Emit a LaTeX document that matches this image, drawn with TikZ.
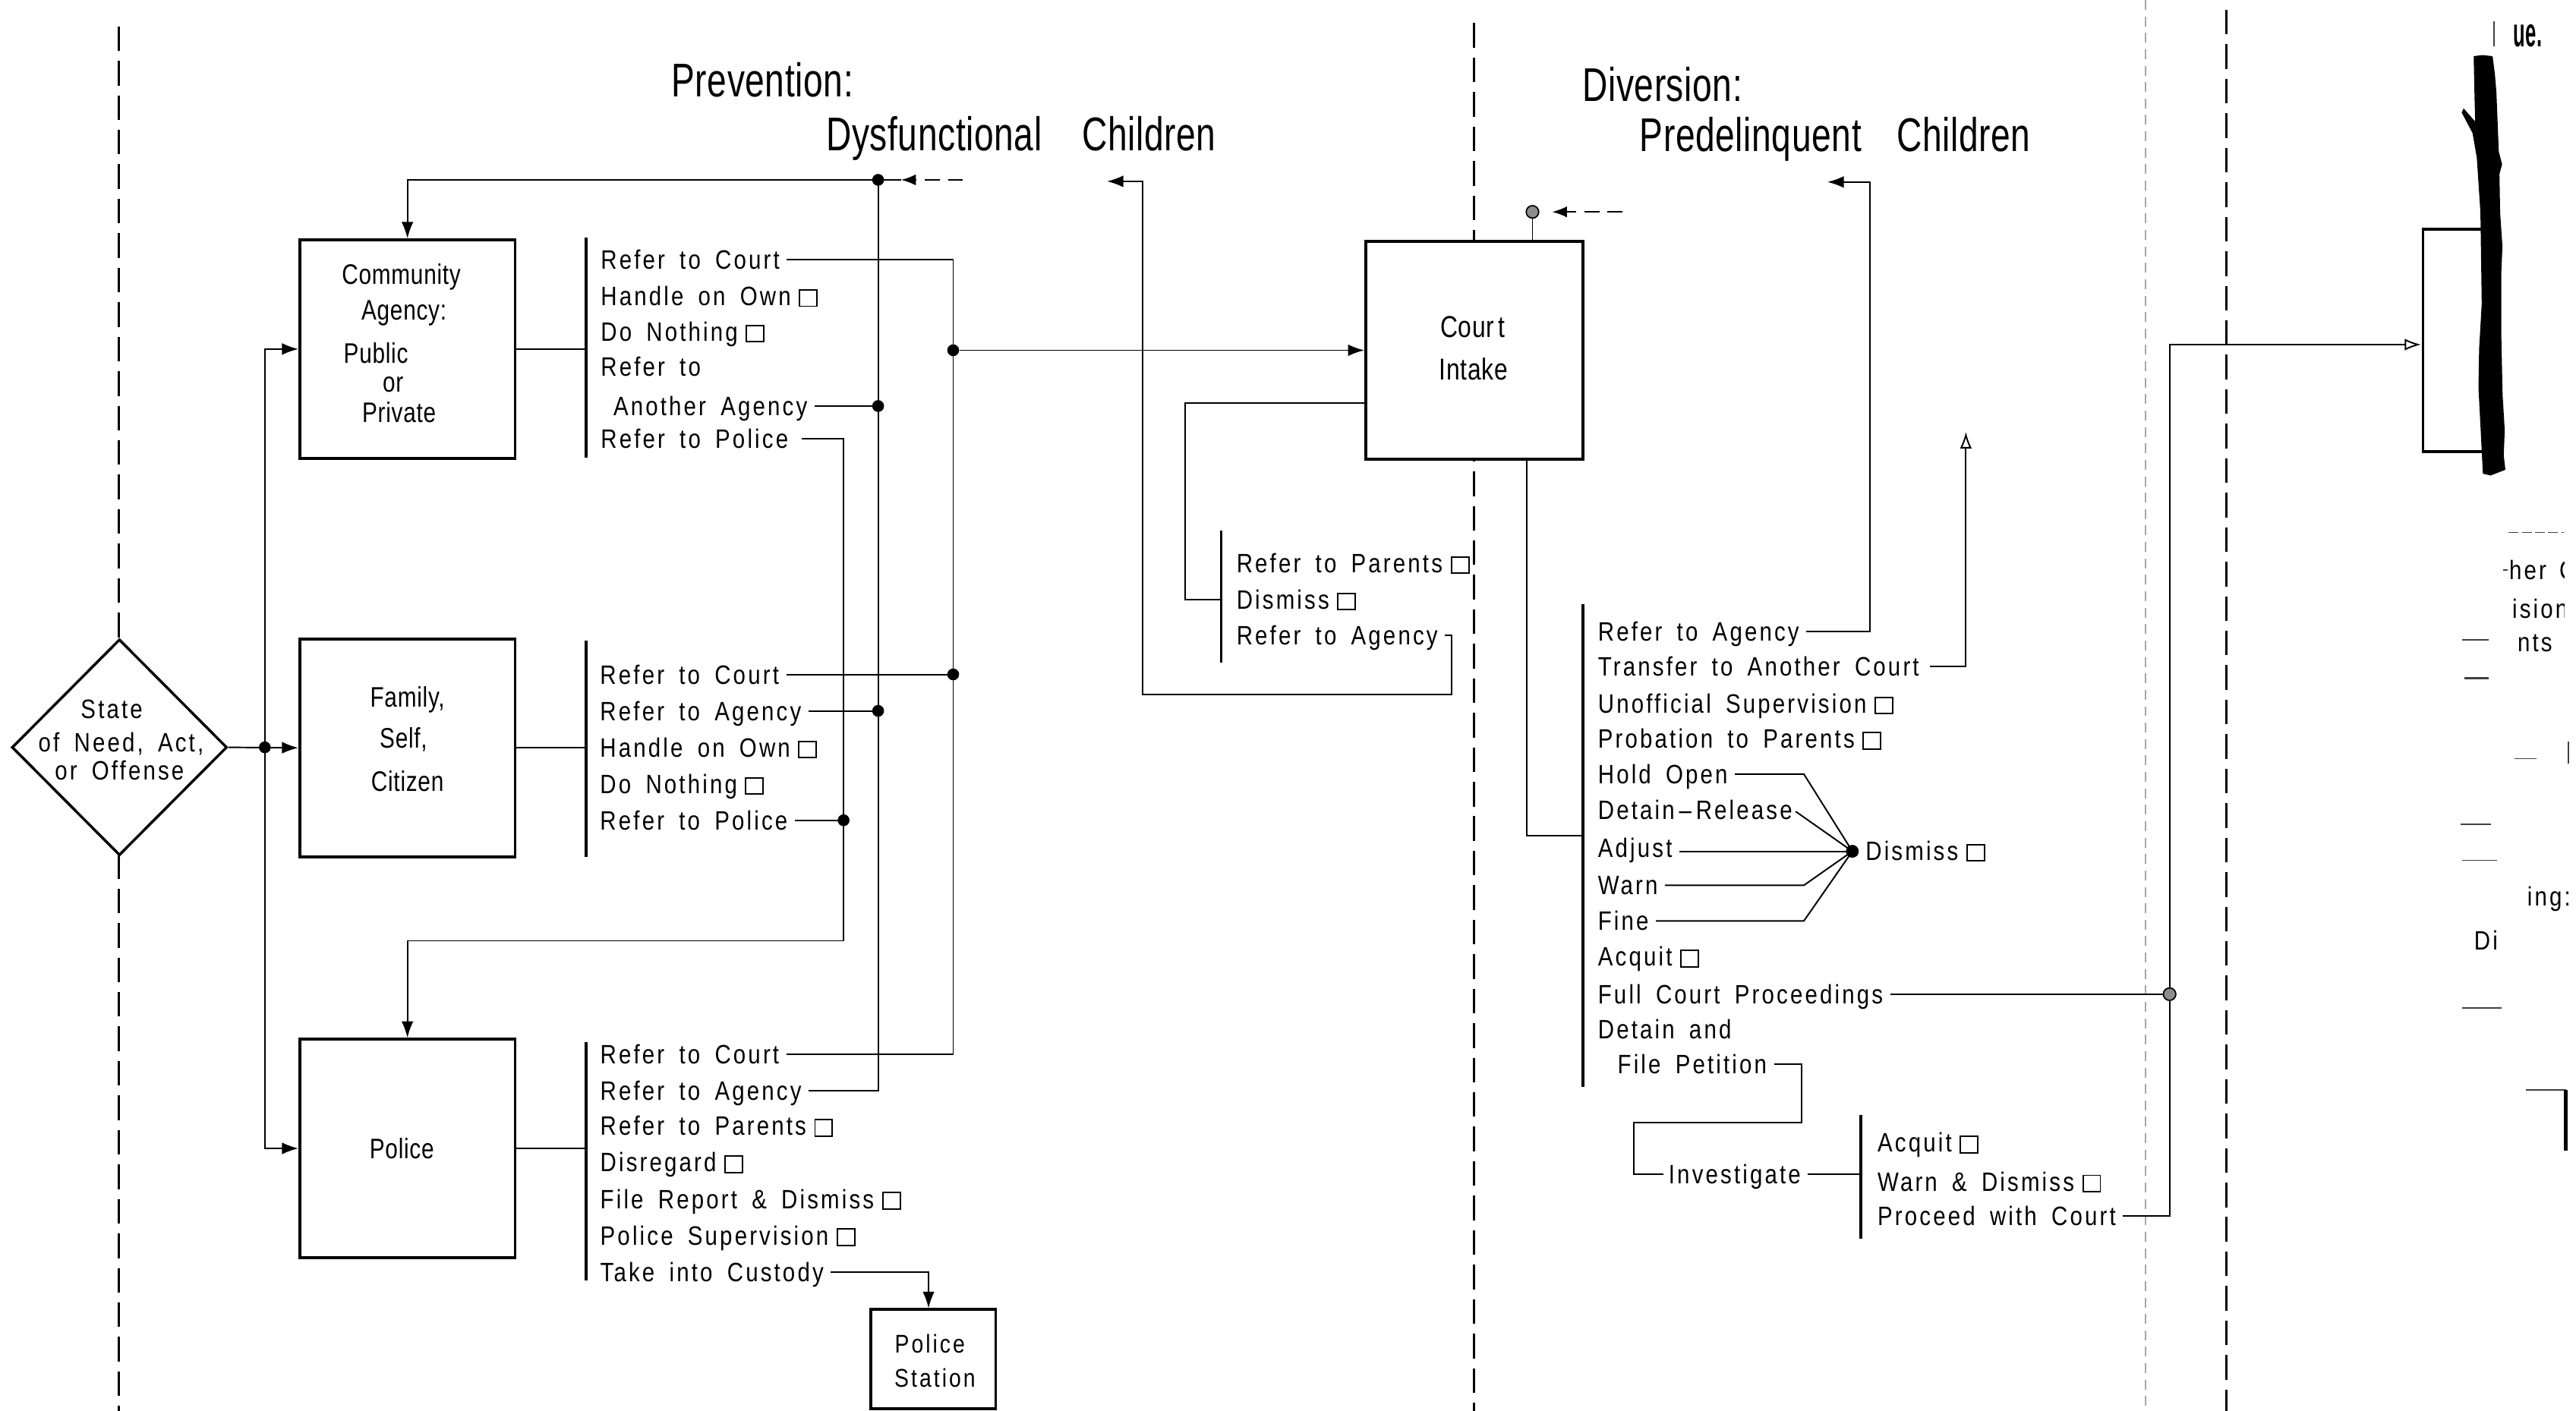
\documentclass[tikz,border=0pt]{standalone}
\usepackage{fontspec}
\usepackage{graphicx}
\setmainfont[FakeStretch=0.84,LetterSpace=9,WordSpace=1.7]{Liberation Sans}
\newfontfamily\titlefont[FakeStretch=0.74,LetterSpace=1]{Liberation Sans}
\newfontfamily\boxfont[FakeStretch=0.8,LetterSpace=2,WordSpace=1.3]{Liberation Sans}
\usetikzlibrary{arrows.meta,shapes.geometric}
% small empty check box after an outcome
\newcommand{\chkbox}{\hspace{0.3em}{\setlength{\fboxsep}{0pt}\setlength{\fboxrule}{0.45pt}\fbox{\rule{0pt}{0.56em}\rule{0.6em}{0pt}}}}
\begin{document}
\begin{tikzpicture}[x=0.5pt,y=-0.5pt,
  conn/.style={line width=0.45pt},
  arr/.style={-{Latex[length=5pt,width=3.6pt]}},
  oarr/.style={-{Latex[open,length=5pt,width=3.6pt]}},
  dasharrow/.style={line width=0.45pt,dash pattern=on 4.5pt off 2.5pt,-{Latex[length=4.5pt,width=3.4pt]}},
  cbox/.style={draw,fill=white,line width=0.85pt,inner sep=0pt},
  brk/.style={line width=0.8pt},
  lane/.style={line width=0.7pt,dash pattern=on 7.5pt off 3pt},
  faint/.style={line width=0.3pt,black!35,dash pattern=on 3pt off 2pt},
  frag/.style={line width=0.4pt,black!75},
  txt/.style={inner sep=0pt,text height=5.8pt,text depth=0pt,font=\fontsize{8.1}{9}\selectfont},
  item/.style={txt,anchor=west},
  boxtxt/.style={inner sep=0pt,text height=6.15pt,text depth=0pt,font=\boxfont\fontsize{8.6}{10}\selectfont},
  ttl/.style={inner sep=0pt,anchor=west,text height=10.3pt,text depth=0pt,font=\titlefont\fontsize{14.4}{16}\selectfont},
  jdot/.style={circle,fill=black,inner sep=0pt,minimum size=3.6pt},
  gdot/.style={circle,draw,line width=0.4pt,fill=black!45,inner sep=0pt,minimum size=3.8pt},
]
\fill[white] (0,0) rectangle (1568,859);
\useasboundingbox (0,0) rectangle (1568,859);

% ---------- lane separators ----------
\draw[lane] (72.5,16) -- (72.5,859);
\draw[lane] (897,14) -- (897,859);
\draw[lane] (1355,6) -- (1355,859);
\draw[faint] (1306,0) -- (1306,859);

% ---------- titles ----------
\node[ttl] (t1) at (408.3,48.5) {Prevention:};
\node[ttl] (t2) at (502.5,81.5) {Dysfunctional\hspace{0.85em}Children};
\node[ttl] (t3) at (962.8,51.6) {Diversion:};
\node[ttl] (t4) at (997.7,82) {Predelinquent\hspace{0.75em}Children};

% ---------- entry point ----------
\node[diamond,draw,fill=white,line width=0.8pt,minimum width=65.5pt,minimum height=65.8pt,inner sep=0pt] (state) at (72.7,455) {};
\node[txt] (stA) at (68,431.7) {State};
\node[txt] (stB) at (73.7,452) {of Need, Act,};
\node[txt] (stC) at (72.7,469) {or\ Offense};

% ---------- first contacts ----------
\node[cbox,minimum width=65.5pt,minimum height=66.5pt] (ca) at (248,212.5) {};
\node[boxtxt] (caT1) at (244.3,166.7) {Community};
\node[boxtxt] (caT2) at (245.9,188.7) {Agency:};
\node[boxtxt,anchor=west] (caT3) at (208.8,214.9) {Public};
\node[boxtxt,anchor=west] (caT4) at (232.6,232.6) {or};
\node[boxtxt,anchor=west] (caT5) at (220.1,251.1) {Private};

\node[cbox,minimum width=65.5pt,minimum height=66.3pt] (fam) at (248,455.3) {};
\node[boxtxt] (famT1) at (248,424.2) {Family,};
\node[boxtxt] (famT2) at (245.6,449.2) {Self,};
\node[boxtxt] (famT3) at (248,475.5) {Citizen};

\node[cbox,minimum width=65.5pt,minimum height=66.5pt] (pol) at (248,699.2) {};
\node[boxtxt] (polT) at (244.6,699.2) {Police};

\node[cbox,minimum width=38pt,minimum height=30.2pt] (ps) at (568,827.5) {};
\node[txt,text height=5.6pt,font=\fontsize{7.8}{8}\selectfont] (psT1) at (566,818.3) {Police};
\node[txt,text height=5.6pt,font=\fontsize{7.8}{8}\selectfont] (psT2) at (569.1,838.7) {Station};

% ---------- court intake box ----------
\node[cbox,minimum width=66.15pt,minimum height=66.25pt] (ci) at (897.5,213.25) {};
\node[boxtxt,text height=6.6pt,font=\boxfont\fontsize{9.2}{10}\selectfont] (ciT1) at (896.4,199) {Cour\hspace{0.12em}t};
\node[boxtxt,text height=6.6pt,font=\boxfont\fontsize{9.2}{10}\selectfont] (ciT2) at (897,224.9) {Intake};

% ---------- outcome lists ----------
\coordinate (caBrT) at (356.8,144.8); \coordinate (caBrB) at (356.8,278.5);
\coordinate (faBrT) at (356.8,390);   \coordinate (faBrB) at (356.8,521.6);
\coordinate (poBrT) at (356.8,634.3); \coordinate (poBrB) at (356.8,779.4);
\draw[brk] (caBrT) -- (caBrB);
\draw[brk] (faBrT) -- (faBrB);
\draw[brk] (poBrT) -- (poBrB);
\draw[conn] (ca.east) -- (caBrT |- ca.east);
\draw[conn] (fam.east) -- (faBrT |- fam.east);
\draw[conn] (pol.east) -- (poBrT |- pol.east);

\node[item] (caI1) at (365.3,157.9) {Refer to Court};
\node[item] (caI2) at (365.3,180.2) {Handle on Own\chkbox};
\node[item] (caI3) at (365.3,201.8) {Do Nothing\chkbox};
\node[item] (caI4) at (365.3,223.3) {Refer to};
\node[item] (caI5) at (373,247.2) {Another Agency};
\node[item] (caI6) at (365.3,267.2) {Refer to Police};

\node[item] (famI1) at (364.9,410.6) {Refer to Court};
\node[item] (famI2) at (364.9,432.8) {Refer to Agency};
\node[item] (famI3) at (364.9,455) {Handle on Own\chkbox};
\node[item] (famI4) at (364.9,477.2) {Do Nothing\chkbox};
\node[item] (famI5) at (364.9,499.4) {Refer to Police};

\node[item] (polI1) at (365,641.8) {Refer to Court};
\node[item] (polI2) at (365,664) {Refer to Agency};
\node[item] (polI3) at (365,685.5) {Refer to Parents\chkbox};
\node[item] (polI4) at (365,707.7) {Disregard\chkbox};
\node[item] (polI5) at (365,729.9) {File Report \& Dismiss\chkbox};
\node[item] (polI6) at (365,752.1) {Police Supervision\chkbox};
\node[item] (polI7) at (365,774.3) {Take into Custody};

% ---------- entry connectors ----------
\coordinate (jL) at (161.2,455);
\draw[conn,arr] (state.east) -- (fam.west);
\draw[conn,{Latex[length=5pt,width=3.6pt]}-{Latex[length=5pt,width=3.6pt]}] (ca.west) -| (jL) |- (pol.west);
\node[jdot] (dL) at (jL) {};

% ---------- referral trunks ----------
\coordinate (tC) at (580.2,0);
\coordinate (tA) at (534.5,109.5);
\coordinate (tP) at (513.5,572.8);
\coordinate (dashA) at (586,109.5);

\draw[conn,shorten <=2pt] (caI1.east) -| (tC |- polI1.east) -- ([xshift=2pt]polI1.east);
\draw[conn,shorten <=2pt] (famI1.east) -- (tC |- famI1.east);
\node[jdot] (dC1) at (tC |- ci.west) {};
\node[jdot] (dC2) at (tC |- famI1.east) {};
\draw[conn,arr] (dC1) -- (ci.west);

\draw[conn] (tA) -- (tA |- polI2.east) -- ([xshift=2pt]polI2.east);
\draw[conn,shorten <=2pt] (caI5.east) -- (tA |- caI5.east);
\draw[conn,shorten <=2pt] (famI2.east) -- (tA |- famI2.east);
\draw[conn,arr] ([xshift=7pt]tA) -| (ca.north);
\draw[dasharrow] (dashA) -- ([xshift=7pt]tA);
\node[jdot] (dA0) at (tA) {};
\node[jdot] (dA1) at (tA |- caI5.east) {};
\node[jdot] (dA2) at (tA |- famI2.east) {};

\draw[conn,arr,shorten <=4pt] (caI6.east) -| (tP) -| (pol.north);
\draw[conn,shorten <=2pt] (famI5.east) -- (tP |- famI5.east);
\node[jdot] (dP) at (tP |- famI5.east) {};

\draw[conn,arr,shorten <=2pt] (polI7.east) -| ([xshift=-1.4pt]ps.north);

% ---------- court intake ----------
\coordinate (ciTop) at (932.8,129);
\coordinate (dashB) at (987.5,129);
\draw[conn] (ciTop) -- (ciTop |- ci.north);
\draw[dasharrow] (dashB) -- ([xshift=6pt]ciTop);
\node[gdot] (dTop) at (ciTop) {};

% intake: informal outcomes
\coordinate (loopA) at (721.3,245.5);
\coordinate (cBrT) at (743.2,323.2); \coordinate (cBrB) at (743.2,403.6);
\draw[brk] (cBrT) -- (cBrB);
\node[item] (cI1) at (752.3,342.7) {Refer to Parents\chkbox};
\node[item] (cI2) at (752.3,365) {Dismiss\chkbox};
\node[item] (cI3) at (752.3,386.6) {Refer to Agency};
\draw[conn] (ci.west |- loopA) -- (loopA) |- (cBrT |- cI2.east);
\coordinate (ra1) at (883.4,422.8);
\coordinate (ra2) at (695.3,422.8);
\coordinate (ra3) at (673.8,110.4);
\draw[conn,arr,shorten <=2pt] (cI3.east) -| (ra1) -- (ra2) |- (ra3);

% intake: formal outcomes
\coordinate (cb) at (929.3,508.8);
\coordinate (dBrT) at (963.6,368); \coordinate (dBrB) at (963.6,661.6);
\draw[brk] (dBrT) -- (dBrB);
\draw[conn] (cb |- ci.south) -- (cb) -- (dBrT |- cb);

\node[item] (dI1) at (972.3,384.3) {Refer to Agency};
\node[item] (dI2) at (972.3,405.9) {Transfer to Another Court};
\node[item] (dI3) at (972.3,428.2) {Unofficial Supervision\chkbox};
\node[item] (dI4) at (972.3,449.8) {Probation to Parents\chkbox};
\node[item] (dI5) at (972.3,471.3) {Hold Open};
\node[item] (dI6) at (972.3,492.9) {Detain\,–\,Release};
\node[item] (dI7) at (972.3,516) {Adjust};
\node[item] (dI8) at (972.3,539) {Warn};
\node[item] (dI9) at (972.3,560.7) {Fine};
\node[item] (dI10) at (972.3,582.3) {Acquit\chkbox};
\node[item] (dI11) at (972.3,605.3) {Full Court Proceedings};
\node[item] (dI12) at (972.3,626.6) {Detain and};
\node[item] (dI13) at (984.2,648) {File Petition};

\coordinate (rb1) at (1138.1,110.8);
\coordinate (rb2) at (1112.3,110.8);
\draw[conn,arr,shorten <=2pt] (dI1.east) -| (rb1) -- (rb2);
\coordinate (rc1) at (1196.6,263);
\draw[conn,oarr,shorten <=3pt] (dI2.east) -| (rc1);

% converging dispositions
\node[jdot,minimum size=3.9pt] (hub) at (1127.5,518.3) {};
\node[item] (dsm) at (1135.2,518) {Dismiss\chkbox};
\coordinate (fanA) at (1098,0);
\draw[conn,shorten <=2pt] (dI5.east) -- (fanA |- dI5.east) -- (hub.center);
\draw[conn,shorten <=1pt] (dI6.east) -- (hub.center);
\draw[conn,shorten <=2pt] (dI7.east |- hub) -- (hub.center);
\draw[conn,shorten <=2pt] (dI8.east) -- (fanA |- dI8.east) -- (hub.center);
\draw[conn,shorten <=2pt] (dI9.east) -- (fanA |- dI9.east) -- (hub.center);

% petition and investigation
\coordinate (fp1) at (1096.6,683.6);
\coordinate (fp2) at (994.7,683.6);
\node[item] (inv) at (1015.3,714.7) {Investigate};
\draw[conn,shorten <=2pt,shorten >=1.5pt] (dI13.east) -| (fp1) -- (fp2) |- (inv.west);
\coordinate (iBrT) at (1132.7,678.8); \coordinate (iBrB) at (1132.7,754);
\draw[brk] (iBrT) -- (iBrB);
\draw[conn,shorten <=2pt] (inv.east) -- (iBrT |- inv.east);
\node[item] (iI1) at (1142.5,695.5) {Acquit\chkbox};
\node[item] (iI2) at (1142.5,719.3) {Warn \& Dismiss\chkbox};
\node[item] (iI3) at (1142.5,740.2) {Proceed with Court};

% on to the adjudication stage
\coordinate (fc) at (1320.6,0);
\coordinate (rt) at (1320.6,209.8);
\coordinate (rArr) at (1473.7,209.8);
\draw[conn,oarr,shorten <=2pt] (iI3.east) -| (rt) -- (rArr);
\draw[conn,shorten <=2pt] (dI11.east) -- (fc |- dI11.east);
\node[gdot] (dFC) at (fc |- dI11.east) {};

% ---------- next stage, partly covered ----------
\draw[line width=0.85pt] (1513,139.7) -- (1474.9,139.7) -- (1474.9,275) -- (1513,275);
\fill[black] (1505.7,34.2) -- (1511,33.5) -- (1517.2,34.2) -- (1518.6,45) -- (1519.5,55.5)
  -- (1521,92.4) -- (1523,100) -- (1521.4,106) -- (1521.8,129.4) -- (1523.2,150) -- (1522.5,166.4)
  -- (1522.5,203.3) -- (1523.3,240.3) -- (1524.6,262) -- (1524,277.3) -- (1525,286)
  -- (1516,289.5) -- (1511.3,288.4) -- (1509.8,258.8) -- (1508.6,236) -- (1509,212.5)
  -- (1510.6,184.8) -- (1509.8,129.4) -- (1507.6,96) -- (1505,81) -- (1498.4,68.5)
  -- (1499.6,66) -- (1506.6,74) -- (1506.2,58) -- cycle;
\draw[frag] (1518,13) -- (1518,28);
\node[inner sep=0pt,anchor=west,text height=6.5pt,text depth=0pt,font=\titlefont\bfseries\fontsize{12.5}{14}\selectfont] (ue) at (1529.6,22) {\scalebox{0.64}[1]{ue.}};

\draw[frag,dash pattern=on 3pt off 1pt] (1527,324.2) -- (1560.4,324.2);
\draw[frag] (1523.5,347.2) -- (1526.3,347.2);
\node[item] (frA) at (1527,346.9) {her};
\begin{scope}
  \clip (1490,330) rectangle (1561,400);
  \node[item] (frB) at (1557.5,346.9) {C};
  \node[item] (frC) at (1528.8,370.5) {ision};
\end{scope}
\node[item] (frD) at (1532,391.1) {nts};
\draw[frag] (1498.8,389.6) -- (1514.8,389.6);
\draw[frag,line width=0.7pt] (1500,412.7) -- (1515,412.7);
\draw[frag] (1530.7,461.9) -- (1543.8,461.9);
\draw[frag,line width=0.6pt] (1563.4,451.6) -- (1563.4,465);
\draw[frag] (1497.7,501.7) -- (1516.2,501.7);
\draw[frag] (1498.5,523.8) -- (1520,523.8);
\node[item] (frE) at (1538,545.8) {ing:};
\node[item] (frF) at (1505.6,572.4) {Di};
\draw[frag] (1498.5,613.7) -- (1522.5,613.7);
\draw[frag] (1537.3,663.7) -- (1561.9,663.7);
\draw[line width=1.1pt] (1561.9,663.7) -- (1561.9,700.6);
\end{tikzpicture}
\end{document}
